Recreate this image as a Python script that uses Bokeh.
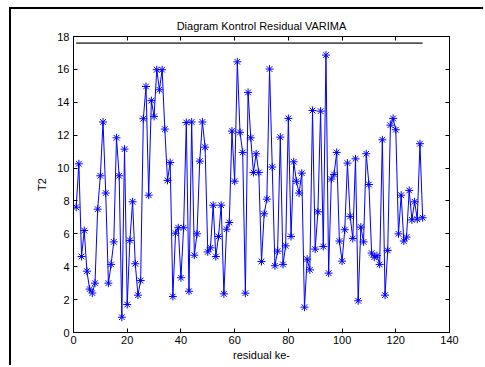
from bokeh.plotting import figure
from bokeh.models import Range1d, FixedTicker, LinearAxis
from bokeh.embed import file_html
from bokeh.resources import INLINE

# ---- data ----
residual_index = list(range(1, 131))
t2_values = [
    7.62, 10.26, 4.62, 6.20, 3.73, 2.64, 2.40, 3.00, 7.50, 9.53,
    12.80, 8.48, 3.00, 4.14, 5.51, 11.84, 9.53, 0.93, 11.15, 1.70,
    5.60, 7.95, 4.18, 2.27, 3.16, 13.00, 14.96, 8.35, 14.10, 13.14,
    15.98, 14.76, 15.98, 12.37, 9.25, 10.34, 2.19, 6.04, 6.37, 3.33,
    6.37, 12.77, 2.51, 12.80, 4.70, 6.00, 10.42, 12.80, 11.27, 4.90,
    5.15, 7.74, 4.62, 5.84, 7.74, 2.35, 6.28, 6.69, 12.25, 9.20,
    16.46, 12.17, 10.95, 2.39, 14.60, 11.84, 9.73, 10.87, 9.73, 4.32,
    7.22, 8.11, 16.02, 10.06, 4.06, 4.95, 11.88, 4.14, 5.27, 13.02,
    5.84, 10.38, 9.20, 8.48, 9.69, 1.54, 4.46, 3.81, 13.50, 5.07,
    7.34, 13.46, 5.23, 16.87, 3.61, 9.33, 9.61, 10.95, 5.56, 4.34,
    6.25, 10.30, 7.06, 5.72, 10.56, 1.93, 6.41, 5.51, 10.87, 9.00,
    4.83, 4.58, 4.67, 4.14, 11.72, 2.27, 4.99, 12.61, 13.02, 12.33,
    6.00, 8.35, 5.56, 5.80, 8.64, 6.85, 7.95, 6.89, 11.48, 6.98,
]
control_limit = 17.6
limit_x = [1, 130]
x_ticks = [0, 20, 40, 60, 80, 100, 120, 140]
y_ticks = [0, 2, 4, 6, 8, 10, 12, 14, 16, 18]

FONT = "Liberation Sans"

p = figure(width=474, height=358, output_backend="svg", toolbar_location=None,
           x_range=Range1d(0, 140), y_range=Range1d(0, 18),
           min_border_left=62, min_border_right=36,
           min_border_top=27, min_border_bottom=35,
           title="Diagram Kontrol Residual VARIMA",
           x_axis_label="residual ke-", y_axis_label="T2")

# outer document frame (top and left edges), as in the reference page
p.styles = {"border-top": "2px solid black", "border-left": "2px solid black",
            "margin-left": "9px", "margin-top": "7px"}

p.background_fill_color = "white"
p.border_fill_color = "white"
p.outline_line_color = "black"
p.outline_line_width = 1
p.xgrid.visible = False
p.ygrid.visible = False

p.title.text_font = FONT
p.title.text_font_size = "11px"
p.title.text_font_style = "normal"
p.title.align = "center"
p.title.text_color = "black"

def style_axis(ax, ticks, show_labels=True):
    ax.ticker = FixedTicker(ticks=ticks)
    ax.major_tick_in = 4
    ax.major_tick_out = 0
    ax.minor_tick_in = 0
    ax.minor_tick_out = 0
    ax.axis_line_color = "black"
    ax.major_tick_line_color = "black"
    ax.major_label_text_font = FONT
    ax.major_label_text_font_size = "11px"
    ax.major_label_text_color = "black"
    ax.axis_label_text_font = FONT
    ax.axis_label_text_font_size = "11px"
    ax.axis_label_text_font_style = "normal"
    ax.axis_label_text_color = "black"
    if not show_labels:
        ax.major_label_overrides = {t: "" for t in ticks}
        ax.major_label_standoff = 0

style_axis(p.xaxis[0], x_ticks)
style_axis(p.yaxis[0], y_ticks)
p.xaxis[0].major_label_standoff = 3
p.xaxis[0].axis_label_standoff = 2
p.yaxis[0].major_label_standoff = 4
p.yaxis[0].axis_label_standoff = 6

top_ax = LinearAxis()
style_axis(top_ax, x_ticks, show_labels=False)
p.add_layout(top_ax, "above")
right_ax = LinearAxis()
style_axis(right_ax, y_ticks, show_labels=False)
p.add_layout(right_ax, "right")

# control limit
p.line(limit_x, [control_limit, control_limit], line_color="#555555", line_width=1.6)

# T2 series
p.line(residual_index, t2_values, line_color="#0000ff", line_width=1)
p.scatter(residual_index, t2_values, marker="asterisk", size=8,
          line_color="#0000ff", line_width=1)

open("out.html", "w").write(file_html(p, INLINE))
